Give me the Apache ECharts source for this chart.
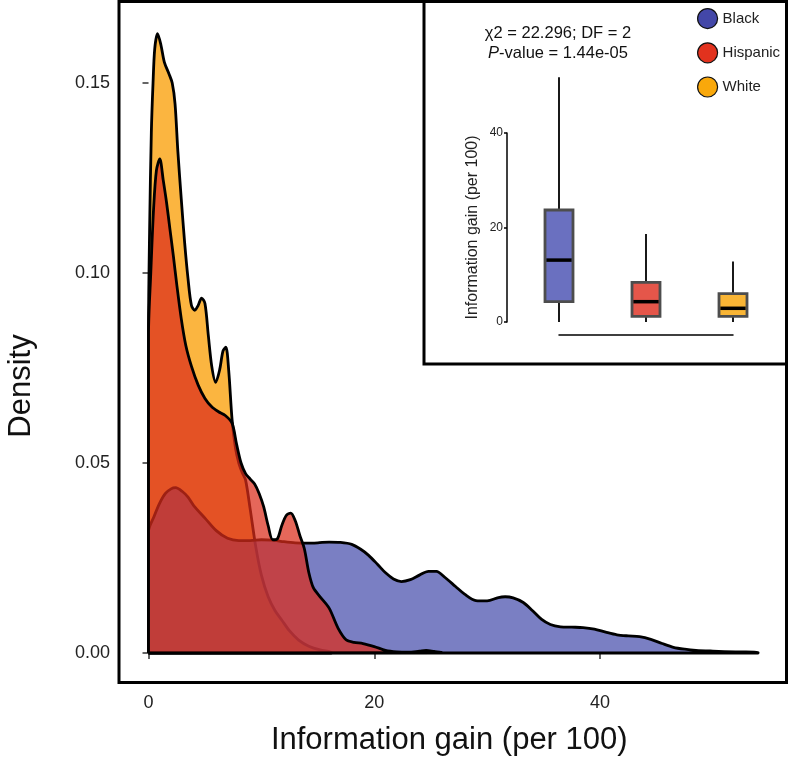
<!DOCTYPE html>
<html><head><meta charset="utf-8">
<script src="https://cdn.jsdelivr.net/npm/echarts@6/dist/echarts.min.js"></script>
<style>html,body{margin:0;padding:0;background:#fff}#c{width:789px;height:758px}</style>
</head><body><div id="c"></div>
<script>
// ---------- data ----------
const groups = ['Black', 'Hispanic', 'White'];

const blackX = [0,0.5,1,1.5,2,2.4,3,3.5,4,5,6,7,8,9,10,11,12,13,14,15,16,17,18,18.8,19.5,20.3,21,21.7,22.4,23.2,24,24.8,25.5,26.3,27.2,28,29,30,31,31.6,32.3,33.2,34,34.8,35.6,36.5,37.5,38.5,39.5,40.5,41.5,42.5,43.5,44.5,45.5,46.5,47.5,48.5,50,52,54];
const blackY = [0.032,0.036,0.0395,0.042,0.0432,0.0435,0.0425,0.041,0.0388,0.0355,0.0322,0.0302,0.0296,0.0296,0.0298,0.0297,0.0293,0.029,0.0289,0.029,0.0292,0.0291,0.0286,0.0273,0.0257,0.0233,0.0211,0.0195,0.0188,0.0193,0.0205,0.0215,0.0215,0.0198,0.0175,0.0155,0.0138,0.0137,0.0146,0.0148,0.0145,0.0133,0.0112,0.0089,0.0075,0.0069,0.0068,0.0067,0.0063,0.0055,0.0048,0.0045,0.0043,0.0036,0.0025,0.0015,0.001,0.0007,0.0005,0.0003,0.0002];

const hispX = [0,0.2,0.45,0.7,1.0,1.3,1.6,1.9,2.2,2.5,2.9,3.3,3.8,4.4,5.0,5.6,6.2,6.8,7.4,7.8,8.2,8.6,9.0,9.4,9.8,10.2,10.6,11.0,11.4,11.8,12.2,12.6,13.0,13.4,13.8,14.2,14.6,15.2,16,16.8,17.5,18.2,19,20,21,22,23,24,24.6,25.3,26];
const hispY = [0.084,0.100,0.117,0.127,0.130,0.1245,0.1185,0.1115,0.1045,0.097,0.088,0.081,0.0755,0.0705,0.067,0.0648,0.0635,0.0625,0.0605,0.055,0.050,0.0472,0.0458,0.0445,0.042,0.0385,0.0335,0.0298,0.0300,0.0335,0.0362,0.0368,0.0348,0.031,0.0275,0.0212,0.0172,0.0148,0.0118,0.0065,0.0035,0.0028,0.0025,0.0017,0.0007,0.0003,0.0002,0.0005,0.0007,0.0004,0.0001];

const whiteX = [0,0.1,0.25,0.4,0.55,0.8,1.1,1.4,1.8,2.1,2.35,2.6,2.9,3.2,3.5,3.8,4.1,4.4,4.7,5.0,5.3,5.6,5.95,6.3,6.6,6.85,7.1,7.4,7.7,8.0,8.3,8.6,9.0,9.5,10.0,10.6,11.2,11.8,12.5,13.3,14.2,15.2,16.2];
const whiteY = [0.085,0.112,0.137,0.150,0.159,0.163,0.160,0.1555,0.1525,0.150,0.1445,0.132,0.1195,0.108,0.0985,0.0915,0.0902,0.0915,0.0934,0.092,0.0835,0.0755,0.0712,0.0745,0.0795,0.0805,0.0745,0.0615,0.054,0.050,0.0475,0.0455,0.038,0.028,0.0205,0.0148,0.0112,0.0087,0.0058,0.0034,0.0018,0.0008,0.0002];

const xTicks = [0, 20, 40];
const yTicks = [0, 0.05, 0.10, 0.15];

// inset boxplot summary (per group: min, Q1, median, Q3, max)
const boxMin    = [0, 0, 0];
const boxQ1     = [4.3, 1.2, 1.2];
const boxMedian = [13.1, 4.3, 2.9];
const boxQ3     = [23.7, 8.4, 6.0];
const boxMax    = [51.8, 18.6, 12.8];
const insetTicks = [0, 20, 40];

const statLine1 = 'χ2 = 22.296; DF = 2';
const statPValue = '1.44e-05';

// ---------- styles ----------
const FONT = 'Liberation Sans, Arial, Helvetica, sans-serif';
const areaColors = { Black: '#4148A9', Hispanic: '#DB2C1A', White: '#F99C00' };
const areaOpacity = { Black: 0.7, Hispanic: 0.72, White: 0.75 };
const drawOrder = { White: 2, Black: 3, Hispanic: 4 };
const legendColors = ['#4347A8', '#E2321E', '#F9A80B'];
const boxFill = ['#6A70C0', '#E5564A', '#F9B535'];

function closedLoop(xs, ys) {
  const pts = [[xs[0], 0]];
  for (let i = 0; i < xs.length; i++) pts.push([xs[i], ys[i]]);
  pts.push([xs[xs.length - 1], 0]);
  pts.push([xs[0], 0]);
  return pts;
}

function densitySeries(name, xs, ys) {
  return {
    name: name, type: 'line', xAxisIndex: 0, yAxisIndex: 0,
    data: closedLoop(xs, ys), symbol: 'none', showSymbol: false,
    smooth: 0.3, z: drawOrder[name],
    lineStyle: { color: '#000', width: 2.8, join: 'round' },
    itemStyle: { color: areaColors[name] },
    areaStyle: { color: areaColors[name], opacity: areaOpacity[name] },
    emphasis: { disabled: true }, silent: true
  };
}

const chart = echarts.init(document.getElementById('c'), null, { renderer: 'canvas' });

// main axis ranges (pixel geometry of the reference)
const xMin = -2.615, xMax = 56.52;
const yMin = -0.00776, yMax = 0.17145;

const option = {
  animation: false,
  backgroundColor: '#fff',
  textStyle: { fontFamily: FONT },
  grid: [
    { left: 119, right: 2.5, top: 1.5, bottom: 75.5, show: true, borderColor: '#000', borderWidth: 3, backgroundColor: '#fff', z: 0, outerBoundsMode: 'none', containLabel: false },
    { left: 424, right: 2.5, top: 1.5, bottom: 394, show: true, borderColor: '#000', borderWidth: 3, backgroundColor: '#fff', z: 5, outerBoundsMode: 'none', containLabel: false },
    { left: 559, right: 56, top: 38.5, bottom: 436, z: 6, outerBoundsMode: 'none', containLabel: false },
    { left: 507, width: 20, top: 133, bottom: 436, z: 6, outerBoundsMode: 'none', containLabel: false }
  ],
  xAxis: [
    { gridIndex: 0, type: 'value', min: xMin, max: xMax,
      axisLine: { show: false }, splitLine: { show: false },
      axisTick: { show: true, customValues: xTicks, length: 6, lineStyle: { color: '#333', width: 1.5 } },
      axisLabel: { customValues: xTicks, fontSize: 18, color: '#222', margin: 12, fontFamily: FONT },
      name: 'Information gain (per 100)', nameLocation: 'middle', nameGap: 42,
      nameTextStyle: { fontSize: 31, color: '#111', fontFamily: FONT, padding: [0, 7, 0, 0] } },
    { gridIndex: 1, type: 'value', show: false },
    { gridIndex: 2, type: 'category', data: groups, boundaryGap: false, offset: 13, z: 7,
      axisLine: { show: true, onZero: false, lineStyle: { color: '#000', width: 1.5 } },
      axisTick: { show: false }, axisLabel: { show: false }, splitLine: { show: false } },
    { gridIndex: 3, type: 'value', show: false }
  ],
  yAxis: [
    { gridIndex: 0, type: 'value', min: yMin, max: yMax,
      axisLine: { show: false }, splitLine: { show: false },
      axisTick: { show: true, customValues: yTicks, length: 6, lineStyle: { color: '#333', width: 1.5 } },
      axisLabel: { customValues: yTicks, fontSize: 18, color: '#222', margin: 9, fontFamily: FONT,
        formatter: v => v.toFixed(2) },
      name: 'Density', nameLocation: 'middle', nameGap: 82, nameRotate: 90,
      nameTextStyle: { fontSize: 31, color: '#111', fontFamily: FONT, padding: [0, 88, 0, 0] } },
    { gridIndex: 1, type: 'value', show: false },
    { gridIndex: 2, type: 'value', min: 0, max: 60, show: false },
    { gridIndex: 3, type: 'value', min: 0, max: 40, interval: 20, z: 7,
      axisLine: { show: true, lineStyle: { color: '#000', width: 1.5 } },
      axisTick: { show: true, length: 3, lineStyle: { color: '#000', width: 1.5 } },
      axisLabel: { fontSize: 12, color: '#222', margin: 4, fontFamily: FONT },
      splitLine: { show: false },
      name: 'Information gain (per 100)', nameLocation: 'middle', nameGap: 26, nameRotate: 90,
      nameTextStyle: { fontSize: 16, color: '#222', fontFamily: FONT } }
  ],
  legend: {
    orient: 'vertical', left: 697, top: 8, padding: 0, itemWidth: 20, itemHeight: 20, itemGap: 13,
    icon: 'circle', selectedMode: false, z: 10,
    textStyle: { fontSize: 15, color: '#222', fontFamily: FONT },
    data: groups.map((g, i) => ({ name: g, icon: 'circle',
      itemStyle: { color: legendColors[i], borderColor: '#111', borderWidth: 1.2, opacity: 1 } }))
  },
  graphic: [
    { type: 'text', x: 558, y: 25, z: 10, style: {
        text: statLine1, fill: '#111', font: '16.5px ' + FONT, align: 'center', verticalAlign: 'top' } },
    { type: 'text', x: 558, y: 45, z: 10, style: {
        text: '{i|P}{n|-value = ' + statPValue + '}', align: 'center', verticalAlign: 'top',
        rich: { i: { fontStyle: 'italic', fontSize: 16.5, fontFamily: FONT, fill: '#111' },
                n: { fontSize: 16.5, fontFamily: FONT, fill: '#111' } } } }
  ],
  series: [
    densitySeries('White', whiteX, whiteY),
    densitySeries('Black', blackX, blackY),
    densitySeries('Hispanic', hispX, hispY),
    {
      name: 'box', type: 'custom', xAxisIndex: 2, yAxisIndex: 2, z: 8, clip: false, silent: true,
      data: groups.map((g, i) => [i, boxMin[i], boxQ1[i], boxMedian[i], boxQ3[i], boxMax[i]]),
      encode: { x: 0, y: [1, 2, 3, 4, 5] },
      renderItem: function (params, api) {
        const i = api.value(0);
        const pMin = api.coord([i, api.value(1)]);
        const pQ1 = api.coord([i, api.value(2)]);
        const pMed = api.coord([i, api.value(3)]);
        const pQ3 = api.coord([i, api.value(4)]);
        const pMax = api.coord([i, api.value(5)]);
        const w = 28, cx = pMin[0];
        return { type: 'group', children: [
          { type: 'line', shape: { x1: cx, y1: pMax[1], x2: cx, y2: pQ3[1] }, style: { stroke: '#000', lineWidth: 1.8 } },
          { type: 'line', shape: { x1: cx, y1: pQ1[1], x2: cx, y2: pMin[1] }, style: { stroke: '#000', lineWidth: 1.8 } },
          { type: 'rect', shape: { x: cx - w / 2, y: pQ3[1], width: w, height: pQ1[1] - pQ3[1] },
            style: { fill: boxFill[params.dataIndex], stroke: '#4d4d4d', lineWidth: 2.8 } },
          { type: 'line', shape: { x1: cx - w / 2 + 1.4, y1: pMed[1], x2: cx + w / 2 - 1.4, y2: pMed[1] },
            style: { stroke: '#000', lineWidth: 3.5 } }
        ] };
      }
    }
  ]
};
chart.setOption(option);
</script>
</body></html>
